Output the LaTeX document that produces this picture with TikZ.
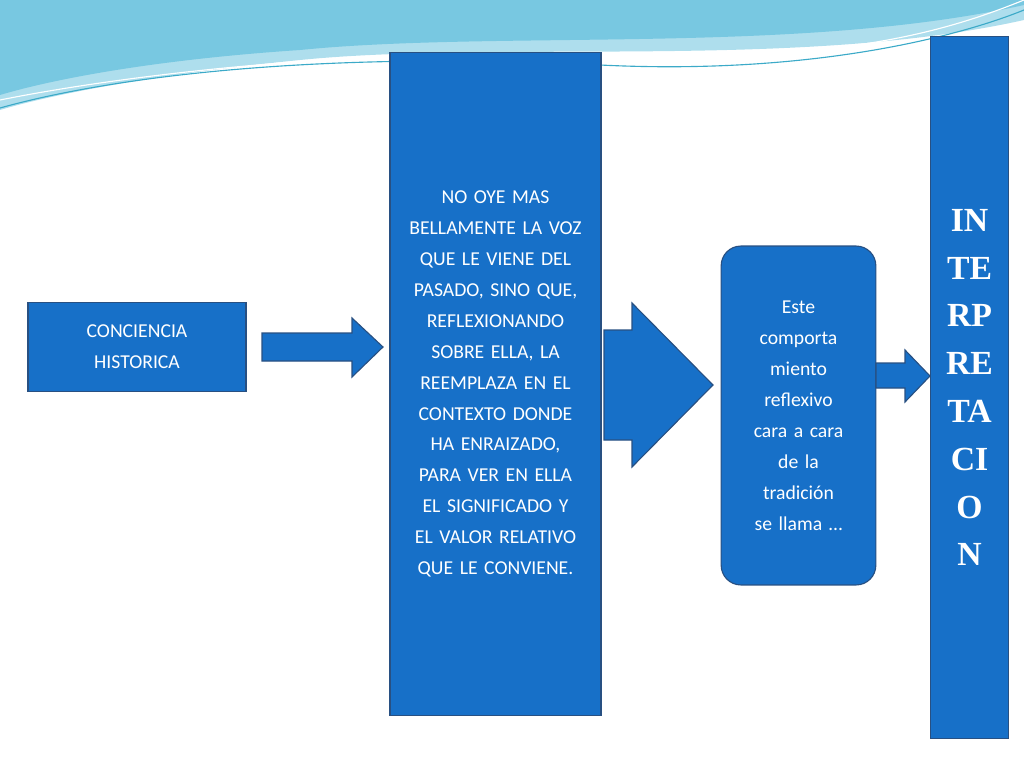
\documentclass[tikz,border=0pt]{standalone}
\usepackage{fontspec}
\setmainfont{Carlito}
\newfontfamily\titlefont{Liberation Serif}
\definecolor{boxblue}{RGB}{23,112,200}
\definecolor{boxline}{RGB}{40,80,130}
\definecolor{wavea}{RGB}{120,200,225}
\definecolor{waveb}{RGB}{60,170,200}
\begin{document}
\begin{tikzpicture}[%
        x=0.025cm, y=-0.025cm,
        box/.style={%
            draw=boxline,%
            thick,%
            fill=boxblue,%
            text=white,%
            align=center,%
            inner sep=2pt,%
            font=\fontsize{14}{22}\selectfont%
        },%
        bigarrow/.style={%
            draw=boxline,%
            thick,%
            fill=boxblue%
        }%
    ]
    \useasboundingbox (0,0) rectangle (1024,768);
    % top waves
    \fill[wavea!60] (0,0) -- (1024,0) -- (1024,20) .. controls (800,70) and (500,40) .. (300,60) .. controls (150,75) and (50,95) .. (0,110) -- cycle;
    \fill[wavea] (0,0) -- (1024,0) -- (1024,5) .. controls (800,55) and (500,30) .. (300,50) .. controls (150,60) and (50,80) .. (0,95) -- cycle;
    \draw[waveb,thick] (0,108) .. controls (100,80) and (300,50) .. (600,65) .. controls (800,75) and (950,40) .. (1024,10);
    \draw[white,thick] (0,100) .. controls (150,70) and (400,45) .. (650,55) .. controls (850,60) and (950,30) .. (1024,0);
    % boxes
    \node (conciencia) [box, minimum width=155pt, minimum height=63pt] at (137,347)
        {CONCIENCIA\\HISTORICA};
    \node (pasado) [box, minimum width=150pt, minimum height=471pt, text width=132pt] at (495.5,384)
        {NO OYE MAS BELLAMENTE LA VOZ QUE LE VIENE DEL PASADO, SINO QUE, REFLEXIONAN\-DO SOBRE ELLA, LA REEMPLAZA EN EL CONTEXTO DONDE HA ENRAIZADO, PARA VER EN ELLA EL SIGNIFICADO Y EL VALOR RELATIVO QUE LE CONVIENE.};
    \node (reflexivo) [box, rounded corners=14pt, minimum width=110pt, minimum height=241pt, text width=82pt] at (798.5,415.5)
        {Este\\comporta\\miento\\reflexivo\\cara a cara\\de la\\tradición\\se llama …};
    \node (interp) [box, minimum width=55pt, minimum height=499pt, font=\titlefont\bfseries\fontsize{24}{34}\selectfont] at (969.5,387.5)
        {IN\\TE\\RP\\RE\\TA\\CI\\O\\N};
    % arrows
    \draw[bigarrow] (262,333) -- (352,333) -- (352,318) -- (383,347) -- (352,377) -- (352,361) -- (262,361) -- cycle;
    \draw[bigarrow] (604,330) -- (632,330) -- (632,303) -- (713,385) -- (632,467) -- (632,440) -- (604,440) -- cycle;
    \draw[bigarrow] (876,363) -- (905,363) -- (905,350) -- (930,376) -- (905,402) -- (905,388) -- (876,388) -- cycle;
\end{tikzpicture}
\end{document}
